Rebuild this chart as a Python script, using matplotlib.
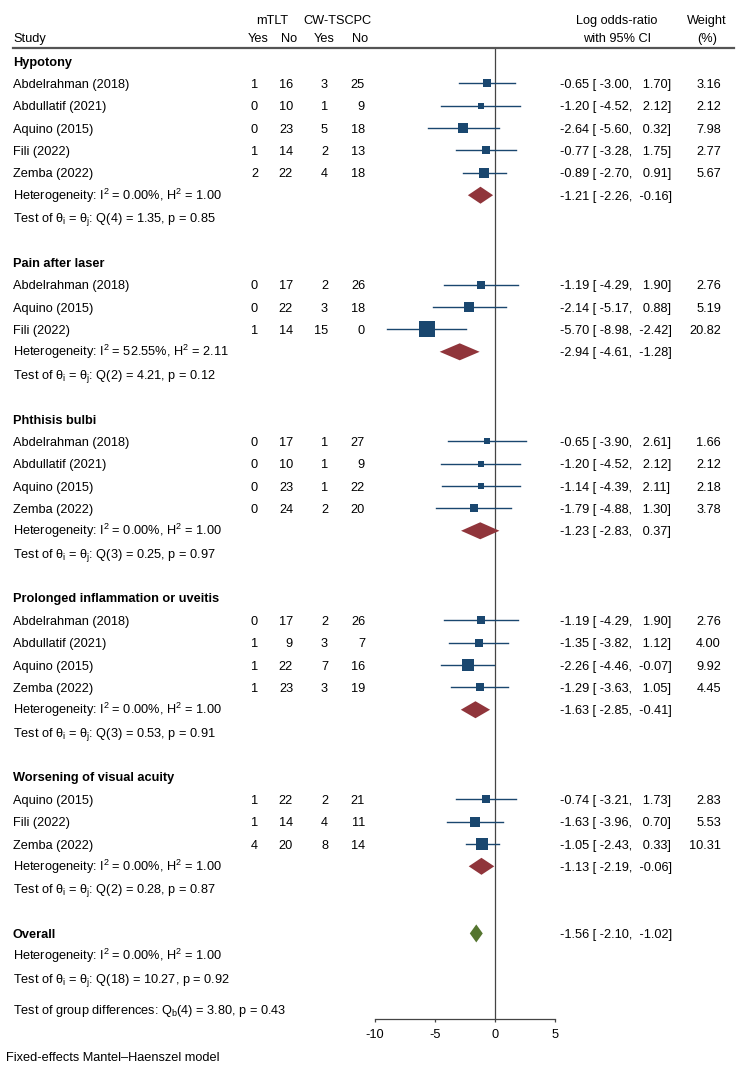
import matplotlib
matplotlib.use("Agg")
import matplotlib.pyplot as plt
import matplotlib.transforms as mtransforms
import numpy as np

plt.rcParams["font.family"] = ["Liberation Sans", "DejaVu Sans"]
plt.rcParams["mathtext.fontset"] = "custom"
plt.rcParams["mathtext.rm"] = "Liberation Sans"
plt.rcParams["mathtext.it"] = "Liberation Sans"
plt.rcParams["mathtext.bf"] = "Liberation Sans:bold"
plt.rcParams["axes.unicode_minus"] = False

# --- data ---
group_names = ["Hypotony", "Pain after laser", "Phthisis bulbi",
               "Prolonged inflammation or uveitis", "Worsening of visual acuity"]

study_names = ["Abdelrahman (2018)", "Abdullatif (2021)", "Aquino (2015)", "Fili (2022)", "Zemba (2022)",
               "Abdelrahman (2018)", "Aquino (2015)", "Fili (2022)",
               "Abdelrahman (2018)", "Abdullatif (2021)", "Aquino (2015)", "Zemba (2022)",
               "Abdelrahman (2018)", "Abdullatif (2021)", "Aquino (2015)", "Zemba (2022)",
               "Aquino (2015)", "Fili (2022)", "Zemba (2022)"]
study_group = [0, 0, 0, 0, 0, 1, 1, 1, 2, 2, 2, 2, 3, 3, 3, 3, 4, 4, 4]
mtlt_yes = [1, 0, 0, 1, 2, 0, 0, 1, 0, 0, 0, 0, 0, 1, 1, 1, 1, 1, 4]
mtlt_no = [16, 10, 23, 14, 22, 17, 22, 14, 17, 10, 23, 24, 17, 9, 22, 23, 22, 14, 20]
cw_yes = [3, 1, 5, 2, 4, 2, 3, 15, 1, 1, 1, 2, 2, 3, 7, 3, 2, 4, 8]
cw_no = [25, 9, 18, 13, 18, 26, 18, 0, 27, 9, 22, 20, 26, 7, 16, 19, 21, 11, 14]
log_or = [-0.65, -1.20, -2.64, -0.77, -0.89, -1.19, -2.14, -5.70, -0.65, -1.20, -1.14, -1.79,
          -1.19, -1.35, -2.26, -1.29, -0.74, -1.63, -1.05]
ci_low = [-3.00, -4.52, -5.60, -3.28, -2.70, -4.29, -5.17, -8.98, -3.90, -4.52, -4.39, -4.88,
          -4.29, -3.82, -4.46, -3.63, -3.21, -3.96, -2.43]
ci_high = [1.70, 2.12, 0.32, 1.75, 0.91, 1.90, 0.88, -2.42, 2.61, 2.12, 2.11, 1.30,
           1.90, 1.12, -0.07, 1.05, 1.73, 0.70, 0.33]
weights = [3.16, 2.12, 7.98, 2.77, 5.67, 2.76, 5.19, 20.82, 1.66, 2.12, 2.18, 3.78,
           2.76, 4.00, 9.92, 4.45, 2.83, 5.53, 10.31]

group_est = [-1.21, -2.94, -1.23, -1.63, -1.13]
group_low = [-2.26, -4.61, -2.83, -2.85, -2.19]
group_high = [-0.16, -1.28, 0.37, -0.41, -0.06]
group_i2 = [0.00, 52.55, 0.00, 0.00, 0.00]
group_h2 = [1.00, 2.11, 1.00, 1.00, 1.00]
group_df = [4, 2, 3, 3, 2]
group_q = [1.35, 4.21, 0.25, 0.53, 0.28]
group_p = [0.85, 0.12, 0.97, 0.91, 0.87]

overall_est, overall_low, overall_high = -1.56, -2.10, -1.02
overall_i2, overall_h2 = 0.00, 1.00
overall_df, overall_q, overall_p = 18, 10.27, 0.92
between_df, between_q, between_p = 4, 3.80, 0.43

# --- layout (pixel based) ---
W, H = 744, 1067
NAVY = "#1a476f"
MAROON = "#90353b"
GREEN = "#55752f"
FS = 9.2
BASE = 4.6  # px from text middle to baseline

fig = plt.figure(figsize=(W / 100, H / 100), dpi=100)
axis_y, head_y = 1019, 47.5
ax = fig.add_axes([375 / W, (H - axis_y) / H, 180 / W, (axis_y - head_y) / H])
ax.set_xlim(-10, 5)
ax.set_ylim(axis_y, head_y)
for s in ["top", "left", "right"]:
    ax.spines[s].set_visible(False)
ax.spines["bottom"].set_color("#444444")
ax.spines["bottom"].set_linewidth(0.9)
ax.set_yticks([])
ax.set_xticks([-10, -5, 0, 5])
ax.tick_params(axis="x", direction="out", length=2.5, width=0.9, color="#444444",
               labelsize=FS, pad=5)
ax.patch.set_visible(False)
ax.axvline(0, color="#444444", lw=0.9, zorder=1)

tr = mtransforms.blended_transform_factory(fig.transFigure, ax.transData)


def txt(px, y, s, ha="left", **kw):
    ax.text(px / W, y + BASE, s, transform=tr, ha=ha, va="baseline", fontsize=FS,
            color="black", **kw)


def ci_str(e, lo, hi):
    return f"{e:5.2f} [{lo:6.2f}, {hi:6.2f}]"


def het_str(i2, h2):
    return f"Heterogeneity: I$^2$ = {i2:.2f}%, H$^2$ = {h2:.2f}"


def test_str(df, q, p):
    return f"Test of $\\theta_i$ = $\\theta_j$: Q({df}) = {q:.2f}, p = {p:.2f}"


# header
txt(272, 19, "mTLT", ha="center")
txt(337, 19, "CW-TSCPC", ha="center")
txt(13, 37, "Study")
for px, s in zip([258, 289, 324, 360], ["Yes", "No", "Yes", "No"]):
    txt(px, 37, s, ha="center")
txt(617, 19, "Log odds-ratio", ha="center")
txt(617, 37, "with 95% CI", ha="center")
txt(707, 19, "Weight", ha="center")
txt(707, 37, "(%)", ha="center")
ax.plot([13 / W, 734 / W], [head_y, head_y], transform=tr, color="#555555", lw=1.6, clip_on=False)

pitch = 22.37
row = lambda k: 61 + pitch * k

k = 0
for g, gname in enumerate(group_names):
    txt(13, row(k), gname, fontweight="bold")
    k += 1
    for i in [j for j, sg in enumerate(study_group) if sg == g]:
        y = row(k)
        txt(13, y, study_names[i])
        txt(258, y, str(mtlt_yes[i]), ha="right")
        txt(293, y, str(mtlt_no[i]), ha="right")
        txt(328, y, str(cw_yes[i]), ha="right")
        txt(365, y, str(cw_no[i]), ha="right")
        ax.plot([ci_low[i], ci_high[i]], [y, y], color=NAVY, lw=1.0, zorder=2, clip_on=False)
        side = 2.07 + 3.05 * np.sqrt(weights[i])
        ax.plot(log_or[i], y, marker="s", ms=side * 0.72, color=NAVY, mew=0, zorder=3, clip_on=False)
        txt(560, y, ci_str(log_or[i], ci_low[i], ci_high[i]))
        txt(721, y, f"{weights[i]:.2f}", ha="right")
        k += 1
    y = row(k)
    txt(13, y, het_str(group_i2[g], group_h2[g]))
    ax.fill([group_low[g], group_est[g], group_high[g], group_est[g]],
            [y, y - 8.5, y, y + 8.5], color=MAROON, lw=0, zorder=3, clip_on=False)
    txt(560, y, ci_str(group_est[g], group_low[g], group_high[g]))
    k += 1
    txt(13, row(k), test_str(group_df[g], group_q[g], group_p[g]))
    k += 2

y = row(k)
txt(13, y, "Overall", fontweight="bold")
ax.fill([overall_low, overall_est, overall_high, overall_est],
        [y, y - 9, y, y + 9], color=GREEN, lw=0, zorder=3)
txt(560, y, ci_str(overall_est, overall_low, overall_high))
txt(13, row(k + 1), het_str(overall_i2, overall_h2))
txt(13, row(k + 2), test_str(overall_df, overall_q, overall_p))
txt(13, row(k + 3.4), f"Test of group differences: Q$_b$({between_df}) = {between_q:.2f}, p = {between_p:.2f}")

txt(6, 1056, "Fixed-effects Mantel\u2013Haenszel model")

fig.savefig("out.png", dpi=100)
